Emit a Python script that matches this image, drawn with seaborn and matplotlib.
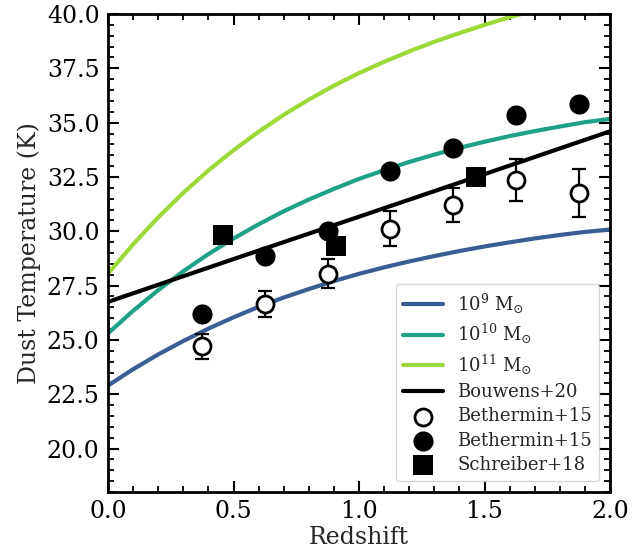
import numpy as np
import pandas as pd
import matplotlib
matplotlib.use("Agg")
import matplotlib.pyplot as plt
import seaborn as sns

# ---- data ----
z_grid = [0.0, 0.1, 0.2, 0.3, 0.4, 0.5, 0.6, 0.7, 0.8, 0.9, 1.0,
          1.1, 1.2, 1.3, 1.4, 1.5, 1.6, 1.7, 1.8, 1.9, 2.0]
t_1e9 = [22.90, 23.65, 24.33, 24.95, 25.52, 26.04, 26.52, 26.95, 27.34, 27.71, 28.04,
         28.34, 28.61, 28.86, 29.09, 29.30, 29.49, 29.67, 29.83, 29.97, 30.08]
t_1e10 = [25.30, 26.34, 27.29, 28.16, 28.95, 29.67, 30.32, 30.92, 31.46, 31.95, 32.41,
          32.81, 33.19, 33.53, 33.84, 34.12, 34.38, 34.61, 34.82, 35.02, 35.17]
t_1e11 = [28.05, 29.40, 30.64, 31.77, 32.80, 33.73, 34.58, 35.36, 36.06, 36.70, 37.28,
          37.80, 38.28, 38.72, 39.12, 39.50, 39.85, 40.17, 40.46, 40.73, 40.98]

z_bouwens = [0.0, 0.5, 1.0, 1.5, 2.0]
t_bouwens = [26.75, 28.72, 30.67, 32.63, 34.60]

z_beth = [0.375, 0.625, 0.875, 1.125, 1.375, 1.625, 1.875]
t_beth_open = [24.71, 26.67, 28.05, 30.12, 31.22, 32.37, 31.76]
err_beth_open = [0.57, 0.60, 0.68, 0.80, 0.78, 0.97, 1.12]
t_beth_filled = [26.21, 28.88, 30.03, 32.79, 33.83, 35.36, 35.86]

z_schreiber = [0.46, 0.91, 1.465]
t_schreiber = [29.84, 29.31, 32.48]

labels = [r"$10^{9}$ M$_{\odot}$", r"$10^{10}$ M$_{\odot}$", r"$10^{11}$ M$_{\odot}$"]
colors = ["#3a5e94", "#1fa187", "#9ed93a"]

# ---- style ----
sns.set_style("ticks")
plt.rcParams["font.family"] = ["DejaVu Serif"]
plt.rcParams["mathtext.fontset"] = "dejavuserif"
plt.rcParams.update({
    "xtick.direction": "in", "ytick.direction": "in",
    "xtick.top": True, "ytick.right": True,
    "xtick.major.size": 8, "ytick.major.size": 8,
    "xtick.minor.size": 4, "ytick.minor.size": 4,
    "xtick.major.width": 1.5, "ytick.major.width": 1.5,
    "xtick.minor.width": 1.3, "ytick.minor.width": 1.3,
    "axes.linewidth": 2.0,
    "axes.edgecolor": "black",
    "xtick.color": "black", "ytick.color": "black",
})

fig = plt.figure(figsize=(6.44, 5.51), dpi=100)
ax = fig.add_axes([108 / 644, 1 - 492 / 551, (610 - 108) / 644, (492 - 14) / 551])

curves = pd.DataFrame({"z": z_grid, "m9": t_1e9, "m10": t_1e10, "m11": t_1e11})
for col, lab, c in zip(["m9", "m10", "m11"], labels, colors):
    sns.lineplot(data=curves, x="z", y=col, ax=ax, color=c, lw=3, label=lab)

bdf = pd.DataFrame({"z": z_bouwens, "T": t_bouwens})
sns.lineplot(data=bdf, x="z", y="T", ax=ax, color="black", lw=3, label="Bouwens+20")

ax.errorbar(z_beth, t_beth_open, yerr=err_beth_open, fmt="none", ecolor="black",
            elinewidth=1.6, capsize=5, capthick=1.6, zorder=4)
odf = pd.DataFrame({"z": z_beth, "T": t_beth_open})
sns.scatterplot(data=odf, x="z", y="T", ax=ax, marker="o", s=150, facecolor="white",
                edgecolor="black", linewidth=2, zorder=5, label="Bethermin+15")
fdf = pd.DataFrame({"z": z_beth, "T": t_beth_filled})
sns.scatterplot(data=fdf, x="z", y="T", ax=ax, marker="o", s=210, color="black",
                edgecolor="black", linewidth=0, zorder=5, label="Bethermin+15")
sdf = pd.DataFrame({"z": z_schreiber, "T": t_schreiber})
sns.scatterplot(data=sdf, x="z", y="T", ax=ax, marker="s", s=200, color="black",
                edgecolor="black", linewidth=0, zorder=5, label="Schreiber+18")

ax.set_xlim(0, 2.0)
ax.set_ylim(18, 40)
ax.set_xticks(np.arange(0, 2.01, 0.5))
ax.set_yticks(np.arange(20, 40.01, 2.5))
ax.xaxis.set_minor_locator(matplotlib.ticker.MultipleLocator(0.1))
ax.yaxis.set_minor_locator(matplotlib.ticker.MultipleLocator(0.5))
ax.xaxis.set_major_formatter(matplotlib.ticker.FormatStrFormatter("%.1f"))
ax.yaxis.set_major_formatter(matplotlib.ticker.FormatStrFormatter("%.1f"))
ax.tick_params(axis="both", which="major", labelsize=17, pad=6)
ax.set_xlabel("Redshift", fontsize=17, labelpad=2)
ax.set_ylabel("Dust Temperature (K)", fontsize=17, labelpad=4)

ax.legend(loc="lower right", fontsize=13, frameon=True, handlelength=2.2,
          borderaxespad=0.6, labelspacing=0.35)

fig.savefig("out.png", dpi=100)
